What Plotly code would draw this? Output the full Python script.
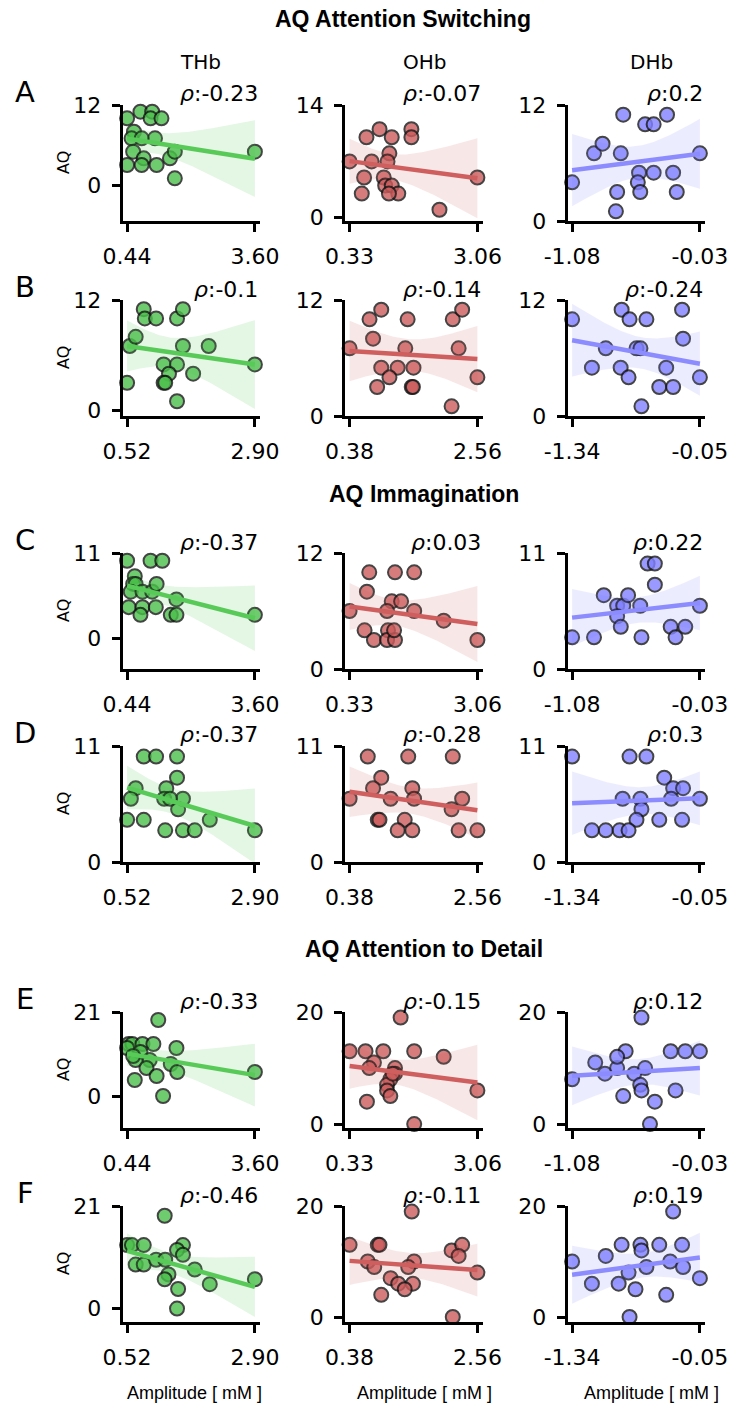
import numpy as np
import plotly.graph_objects as go

W, H = 729, 1407

# ---------------------------------------------------------------------------
# Data: x = haemoglobin amplitude [mM], y = AQ subscale score
# ---------------------------------------------------------------------------
# Row A - AQ Attention Switching (set 1)
A_THb_x = [0.44, 0.77, 1.06, 1.02, 1.29, 0.61, 0.55, 1.13, 0.80, 0.59, 0.85, 0.44, 0.80, 1.17, 1.50, 1.62, 1.62, 3.60]
A_THb_y = [10, 11, 11, 10, 10, 8, 7, 7, 7, 5, 4, 3, 3, 3, 4, 5, 1, 5]
A_OHb_x = [0.33, 0.69, 0.97, 1.23, 1.65, 1.65, 0.80, 1.18, 1.14, 0.64, 1.06, 1.09, 1.23, 1.37, 0.59, 1.17, 2.25, 3.06]
A_OHb_y = [7, 10, 11, 10, 11, 10, 7, 8, 7, 5, 5, 4, 4, 3, 3, 3, 1, 5]
A_DHb_x = [-1.08, -0.90, -0.83, -0.68, -0.66, -0.48, -0.41, -0.30, -0.03, -0.53, -0.41, -0.25, -0.54, -0.52, -0.71, -0.72, -0.22]
A_DHb_y = [4, 7, 8, 7, 11, 10, 10, 11, 7, 5, 5, 5, 4, 3, 3, 1, 3]

# Row B - AQ Attention Switching (set 2)
B_THb_x = [0.52, 0.57, 0.68, 0.83, 0.85, 1.06, 1.45, 1.56, 1.56, 1.20, 1.45, 1.30, 1.20, 1.23, 1.75, 2.04, 1.45, 2.90]
B_THb_y = [3, 7, 8, 11, 10, 10, 10, 11, 7, 5, 5, 4, 3, 3, 4, 7, 1, 5]
B_OHb_x = [0.38, 0.72, 0.92, 0.78, 1.37, 1.33, 0.92, 1.20, 1.47, 1.06, 0.85, 1.44, 1.46, 2.14, 2.30, 2.24, 2.12, 2.56]
B_OHb_y = [7, 10, 11, 8, 10, 7, 5, 5, 5, 4, 3, 3, 3, 10, 11, 7, 1, 4]
B_DHb_x = [-1.34, -0.84, -0.76, -0.59, -0.23, -1.00, -1.14, -0.85, -0.77, -0.69, -0.65, -0.39, -0.22, -0.05, -0.46, -0.32, -0.64]
B_DHb_y = [10, 11, 10, 10, 11, 7, 5, 5, 4, 7, 7, 5, 8, 4, 3, 3, 1]

# Row C - AQ Immagination (set 1)
C_THb_x = [0.44, 1.02, 1.31, 0.63, 0.59, 0.65, 0.53, 0.82, 1.06, 1.17, 0.48, 0.82, 1.15, 0.77, 1.66, 1.52, 1.66, 3.60]
C_THb_y = [10, 10, 10, 8, 7, 7, 6, 6, 6, 7, 4, 4, 4, 3, 5, 3, 3, 3]
C_OHb_x = [0.75, 1.30, 1.71, 0.70, 0.33, 1.23, 1.43, 1.13, 1.71, 2.34, 0.65, 1.15, 0.85, 1.13, 1.30, 3.06, 1.28]
C_OHb_y = [10, 10, 10, 8, 6, 7, 7, 6, 6, 5, 4, 4, 3, 3, 3, 3, 4]
C_DHb_x = [-1.08, -0.90, -0.82, -0.71, -0.66, -0.71, -0.68, -0.62, -0.51, -0.46, -0.40, -0.40, -0.52, -0.27, -0.23, -0.15, -0.03]
C_DHb_y = [3, 3, 7, 6, 6, 5, 4, 7, 3, 10, 10, 8, 6, 4, 3, 4, 6]

# Row D - AQ Immagination (set 2)
D_THb_x = [0.83, 1.06, 1.45, 1.45, 0.68, 0.59, 1.25, 1.21, 1.56, 1.47, 0.52, 0.83, 1.23, 1.56, 1.78, 2.06, 2.90, 1.32]
D_THb_y = [10, 10, 10, 8, 7, 6, 7, 6, 6, 5, 4, 4, 3, 3, 3, 4, 3, 6]
D_OHb_x = [0.69, 1.38, 2.14, 0.92, 0.78, 0.38, 1.08, 1.45, 1.48, 2.30, 2.12, 0.86, 0.89, 1.32, 1.20, 1.45, 2.24, 2.56]
D_OHb_y = [10, 10, 10, 8, 7, 6, 6, 7, 6, 6, 5, 4, 4, 4, 3, 3, 3, 3]
D_DHb_x = [-1.34, -0.76, -0.59, -0.41, -0.32, -0.22, -0.05, -0.34, -0.83, -0.65, -0.64, -0.69, -0.46, -0.23, -1.14, -1.00, -0.86, -0.77]
D_DHb_y = [10, 10, 10, 8, 7, 7, 6, 6, 6, 6, 5, 4, 4, 4, 3, 3, 3, 3]

# Row E - AQ Attention to Detail (set 1)
E_THb_x = [1.21, 0.48, 0.57, 0.82, 1.09, 1.66, 0.44, 0.77, 0.65, 1.00, 0.92, 1.52, 1.68, 1.17, 0.63, 1.33, 3.60, 0.59]
E_THb_y = [19, 13, 13, 13, 13, 12, 12, 11, 9, 9, 7, 8, 6, 5, 4, 0, 6, 10]
E_OHb_x = [1.42, 0.33, 0.67, 1.05, 1.71, 2.34, 0.85, 0.75, 1.30, 1.30, 1.20, 1.13, 1.13, 1.20, 0.70, 1.71, 3.06, 1.25]
E_OHb_y = [19, 13, 13, 13, 13, 12, 11, 10, 10, 9, 8, 7, 6, 5, 4, 0, 6, 9]
E_DHb_x = [-0.51, -1.08, -0.89, -0.81, -0.71, -0.64, -0.71, -0.57, -0.48, -0.27, -0.15, -0.03, -0.52, -0.51, -0.66, -0.23, -0.40, -0.44]
E_DHb_y = [19, 8, 11, 9, 10, 13, 12, 9, 10, 13, 13, 13, 7, 6, 5, 6, 4, 0]

# Row F - AQ Attention to Detail (set 2)
F_THb_x = [1.22, 0.52, 0.61, 0.83, 1.56, 1.45, 1.56, 0.68, 0.83, 1.06, 1.23, 1.29, 1.22, 1.78, 2.06, 1.47, 1.45, 2.90]
F_THb_y = [19, 13, 13, 13, 13, 12, 11, 9, 9, 10, 10, 7, 6, 8, 5, 4, 0, 6]
F_OHb_x = [1.44, 0.38, 0.86, 0.89, 2.12, 2.30, 2.24, 0.69, 0.80, 1.48, 1.38, 1.08, 1.21, 1.46, 1.32, 0.92, 2.14, 2.56]
F_OHb_y = [19, 13, 13, 13, 12, 13, 11, 10, 9, 10, 9, 7, 6, 6, 5, 4, 0, 8]
F_DHb_x = [-0.32, -1.34, -1.00, -0.84, -0.65, -0.64, -0.46, -0.23, -1.14, -0.87, -0.77, -0.59, -0.35, -0.22, -0.70, -0.39, -0.05, -0.76]
F_DHb_y = [19, 10, 11, 13, 13, 12, 13, 13, 6, 6, 8, 9, 10, 9, 5, 4, 7, 0]

# Spearman rho shown in each panel (THb, OHb, DHb)
rho_A = [-0.23, -0.07, 0.2]
rho_B = [-0.1, -0.14, -0.24]
rho_C = [-0.37, 0.03, 0.22]
rho_D = [-0.37, -0.28, 0.3]
rho_E = [-0.33, -0.15, 0.12]
rho_F = [-0.46, -0.11, 0.19]

# Upper y tick of each panel
ytop_A = [12, 14, 12]
ytop_B = [12, 12, 12]
ytop_C = [11, 12, 11]
ytop_D = [11, 11, 11]
ytop_E = [21, 20, 20]
ytop_F = [21, 20, 20]

# Lower end of each y axis
ylow_A = [-5.4, -0.4, 0.0]
ylow_B = [-0.6, 0.0, 0.0]
ylow_C = [-4.0, 0.0, 0.0]
ylow_D = [0.0, 0.0, 0.0]
ylow_E = [-8.0, -0.7, -0.7]
ylow_F = [-2.75, -0.9, -0.9]

# x tick labels (min / max amplitude)
xticks_set1 = [["0.44", "3.60"], ["0.33", "3.06"], ["-1.08", "-0.03"]]
xticks_set2 = [["0.52", "2.90"], ["0.38", "2.56"], ["-1.34", "-0.05"]]

chromophores = ["THb", "OHb", "DHb"]
section_titles = ["AQ Attention Switching", "AQ Immagination", "AQ Attention to Detail"]

rows = [
    ("A", [(A_THb_x, A_THb_y), (A_OHb_x, A_OHb_y), (A_DHb_x, A_DHb_y)], rho_A, ytop_A, ylow_A, xticks_set1),
    ("B", [(B_THb_x, B_THb_y), (B_OHb_x, B_OHb_y), (B_DHb_x, B_DHb_y)], rho_B, ytop_B, ylow_B, xticks_set2),
    ("C", [(C_THb_x, C_THb_y), (C_OHb_x, C_OHb_y), (C_DHb_x, C_DHb_y)], rho_C, ytop_C, ylow_C, xticks_set1),
    ("D", [(D_THb_x, D_THb_y), (D_OHb_x, D_OHb_y), (D_DHb_x, D_DHb_y)], rho_D, ytop_D, ylow_D, xticks_set2),
    ("E", [(E_THb_x, E_THb_y), (E_OHb_x, E_OHb_y), (E_DHb_x, E_DHb_y)], rho_E, ytop_E, ylow_E, xticks_set1),
    ("F", [(F_THb_x, F_THb_y), (F_OHb_x, F_OHb_y), (F_DHb_x, F_DHb_y)], rho_F, ytop_F, ylow_F, xticks_set2),
]

# ---------------------------------------------------------------------------
# Styling
# ---------------------------------------------------------------------------
MARKER = ["rgb(74,192,74)", "rgb(205,92,92)", "rgb(128,128,255)"]
LINE = ["rgb(88,202,88)", "rgb(207,94,94)", "rgb(140,140,255)"]
BAND = ["rgba(74,192,74,0.15)", "rgba(205,92,92,0.15)", "rgba(128,128,255,0.15)"]

# axes boxes in pixels (top, bottom) per row and (left, right) per column
ROW_PX = [(105, 221), (300, 416), (553, 669), (746, 862), (1012, 1128), (1206, 1322)]
COL_PX = [(122.5, 260), (345, 482.5), (567.5, 705)]

T95 = {13: 2.160, 14: 2.145, 15: 2.131, 16: 2.120, 17: 2.110, 18: 2.101, 19: 2.093}

TICK_FONT = dict(family="DejaVu Sans", size=22, color="black")


def px_x(p):
    return p / W


def px_y(p):
    return 1 - p / H


def regression(x, y, n=100):
    x = np.asarray(x, float)
    y = np.asarray(y, float)
    slope, icpt = np.polyfit(x, y, 1)
    grid = np.linspace(x.min(), x.max(), n)
    fit = icpt + slope * grid
    resid = y - (icpt + slope * x)
    dof = len(x) - 2
    s = np.sqrt(np.sum(resid ** 2) / dof)
    sxx = np.sum((x - x.mean()) ** 2)
    se = s * np.sqrt(1.0 / len(x) + (grid - x.mean()) ** 2 / sxx)
    t = T95.get(dof, 2.1)
    return grid, fit, fit - t * se, fit + t * se


fig = go.Figure()
annotations = []
layout_axes = {}

for r, (letter, pairs, rhos, ytops, ylows, xtick_text) in enumerate(rows):
    top_px, bot_px = ROW_PX[r]
    for c in range(3):
        k = r * 3 + c + 1
        sfx = "" if k == 1 else str(k)
        xname, yname = "x" + sfx, "y" + sfx
        x, y = pairs[c]
        xa = np.asarray(x, float)
        ya = np.asarray(y, float)
        grid, fit, lo, hi = regression(xa, ya)

        # scatter of subjects
        fig.add_trace(go.Scatter(
            x=xa, y=ya, mode="markers", xaxis=xname, yaxis=yname,
            marker=dict(size=14, color=MARKER[c], opacity=0.8,
                        line=dict(color="#161616", width=2)),
            cliponaxis=False, showlegend=False, hoverinfo="skip"))
        # confidence band
        fig.add_trace(go.Scatter(
            x=np.concatenate([grid, grid[::-1]]),
            y=np.concatenate([hi, lo[::-1]]),
            mode="lines", fill="toself", fillcolor=BAND[c],
            line=dict(width=0), xaxis=xname, yaxis=yname,
            showlegend=False, hoverinfo="skip"))
        # regression line
        fig.add_trace(go.Scatter(
            x=grid, y=fit, mode="lines", xaxis=xname, yaxis=yname,
            line=dict(color=LINE[c], width=4.5),
            showlegend=False, hoverinfo="skip"))

        x0, x1 = xa.min(), xa.max()
        span = x1 - x0
        ytop = ytops[c]

        left, right = COL_PX[c]
        axis_common = dict(
            showline=True, linecolor="black", linewidth=2.6,
            ticks="outside", ticklen=8, tickwidth=2.6, tickcolor="black",
            showgrid=False, zeroline=False, tickfont=TICK_FONT,
            ticklabelstandoff=6, fixedrange=True)
        layout_axes["xaxis" + sfx] = dict(
            axis_common, domain=[px_x(left), px_x(right)],
            range=[x0 - 0.036 * span, x1 + 0.04 * span],
            tickvals=[x0, x1], ticktext=xtick_text[c], anchor=yname)
        layout_axes["yaxis" + sfx] = dict(
            axis_common, domain=[px_y(bot_px), px_y(top_px)],
            range=[ylows[c], ytop], tickvals=[0, ytop],
            ticktext=["0", str(ytop)], anchor=xname)

        # rho label
        annotations.append(dict(
            x=px_x(right), y=px_y(top_px - 11), xref="paper", yref="paper",
            xanchor="right", yanchor="middle", showarrow=False,
            text=f"<i>ρ</i>:{rhos[c]}",
            font=dict(family="DejaVu Sans", size=22, color="black")))

    # row letter
    annotations.append(dict(
        x=px_x(25), y=px_y(top_px - 13), xref="paper", yref="paper",
        xanchor="center", yanchor="middle", showarrow=False, text=letter,
        font=dict(family="DejaVu Sans", size=29, color="black")))
    # y label
    annotations.append(dict(
        x=px_x(63), y=px_y((top_px + bot_px) / 2), xref="paper", yref="paper",
        xanchor="center", yanchor="middle", showarrow=False, text="AQ",
        textangle=-90, font=dict(family="DejaVu Sans", size=16, color="black")))

# section titles
for text, (cx, cy) in zip(section_titles, [(403, 19), (424, 494), (424, 949)]):
    annotations.append(dict(
        x=px_x(cx), y=px_y(cy), xref="paper", yref="paper",
        xanchor="center", yanchor="middle", showarrow=False,
        text=f"<b>{text}</b>",
        font=dict(family="Liberation Sans", size=23, color="black")))

# chromophore column headers
for name, cx in zip(chromophores, [200, 424, 651]):
    annotations.append(dict(
        x=px_x(cx), y=px_y(62), xref="paper", yref="paper",
        xanchor="center", yanchor="middle", showarrow=False, text=name,
        font=dict(family="DejaVu Sans", size=20, color="black")))

# x-axis labels under the last row
for cx in [194, 424, 651]:
    annotations.append(dict(
        x=px_x(cx), y=px_y(1393), xref="paper", yref="paper",
        xanchor="center", yanchor="middle", showarrow=False,
        text="Amplitude [ mM ]",
        font=dict(family="Liberation Sans", size=18, color="black")))

fig.update_layout(
    width=W, height=H, margin=dict(l=0, r=0, t=0, b=0),
    paper_bgcolor="white", plot_bgcolor="white",
    template="none", showlegend=False,
    annotations=annotations, **layout_axes)

fig.write_html("out.html")
